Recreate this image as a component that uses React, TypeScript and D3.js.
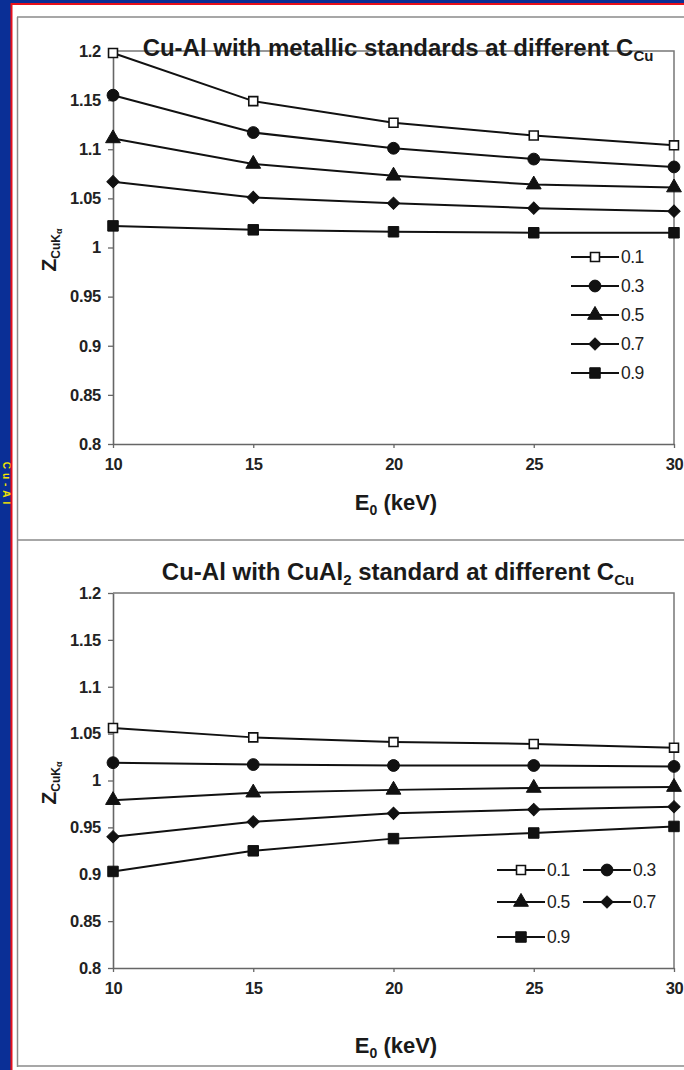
import React, { useEffect, useRef } from 'react';
import * as d3 from 'd3';

// E0 (keV)
const energies = [10, 15, 20, 25, 30];
const concentrations = ['0.1', '0.3', '0.5', '0.7', '0.9'];

// metallic standards
const metallic01 = [1.198, 1.149, 1.127, 1.114, 1.104];
const metallic03 = [1.155, 1.117, 1.101, 1.09, 1.082];
const metallic05 = [1.111, 1.085, 1.073, 1.064, 1.061];
const metallic07 = [1.067, 1.051, 1.045, 1.04, 1.037];
const metallic09 = [1.022, 1.018, 1.016, 1.015, 1.015];

// CuAl2 standard
const cual01 = [1.056, 1.046, 1.041, 1.039, 1.035];
const cual03 = [1.019, 1.017, 1.016, 1.016, 1.015];
const cual05 = [0.979, 0.987, 0.99, 0.992, 0.993];
const cual07 = [0.94, 0.956, 0.965, 0.969, 0.972];
const cual09 = [0.903, 0.925, 0.938, 0.944, 0.951];

const yTicks = [0.8, 0.85, 0.9, 0.95, 1, 1.05, 1.1, 1.15, 1.2];
const xTicks = [10, 15, 20, 25, 30];

// square, circle, triangle, diamond (rotated square), square
const symbolTypes = [d3.symbolSquare, d3.symbolCircle, d3.symbolTriangle, d3.symbolSquare, d3.symbolSquare];
const symbolSizes = [80, 110, 95, 75, 110];
const symbolRotate = [0, 0, 0, 45, 0];
const symbolFills = ['#fff', '#111', '#111', '#111', '#111'];

const FONT = '"Liberation Sans", Arial, sans-serif';

const App = () => {
    const svgRef = useRef<SVGSVGElement>(null);

    useEffect(() => {
        const svg = d3.select(svgRef.current);
        svg.selectAll('*').remove();

        // page background and frame
        svg.append('rect').attr('width', 684).attr('height', 1070).attr('fill', '#fff');
        svg.append('rect').attr('x', 0).attr('y', 0).attr('width', 11).attr('height', 1070).attr('fill', '#0a2f96');
        svg.append('rect').attr('x', 0).attr('y', 0).attr('width', 684).attr('height', 3).attr('fill', '#0a2f96');
        svg.append('text')
            .attr('transform', 'translate(3,485) rotate(90)')
            .attr('text-anchor', 'middle')
            .attr('font-family', FONT).attr('font-weight', 'bold').attr('font-size', 10)
            .attr('letter-spacing', 4)
            .attr('fill', '#f3e600')
            .text('Cu-Al');
        svg.append('line').attr('x1', 11.5).attr('x2', 11.5).attr('y1', 3).attr('y2', 1070).attr('stroke', '#e8101a').attr('stroke-width', 2);
        svg.append('line').attr('x1', 11).attr('x2', 684).attr('y1', 4).attr('y2', 4).attr('stroke', '#e8101a').attr('stroke-width', 2);

        const frame = svg.append('g').attr('fill', 'none').attr('stroke', '#8a8a8a').attr('stroke-width', 1.5);
        frame.append('line').attr('x1', 17).attr('x2', 684).attr('y1', 17).attr('y2', 17);
        frame.append('line').attr('x1', 17.5).attr('x2', 17.5).attr('y1', 17).attr('y2', 1067);
        frame.append('line').attr('x1', 17).attr('x2', 684).attr('y1', 540).attr('y2', 540);
        frame.append('line').attr('x1', 17).attr('x2', 684).attr('y1', 1066).attr('y2', 1066);

        const x = d3.scaleLinear().domain([10, 30]).range([113, 674]);

        const marker = (sel: any, s: number) =>
            sel.attr('d', d3.symbol().type(symbolTypes[s]).size(symbolSizes[s])())
                .attr('fill', symbolFills[s])
                .attr('stroke', '#111')
                .attr('stroke-width', s === 0 ? 1.6 : 1);

        const drawChart = (
            top: number,
            bottom: number,
            series: number[][],
            title: [string, string],
            legendPos: { x: number; y: number }[],
            titleY: number,
            yLabelY: number,
            xLabelY: number,
        ) => {
            const y = d3.scaleLinear().domain([0.8, 1.2]).range([bottom, top]);
            const g = svg.append('g');

            // plot frame (top and right)
            g.append('path')
                .attr('d', `M${x(10)},${y(1.2)}H${x(30)}V${y(0.8)}`)
                .attr('fill', 'none').attr('stroke', '#777').attr('stroke-width', 1.5);

            const yAxis = g.append('g')
                .attr('transform', `translate(${x(10)},0)`)
                .call(d3.axisLeft(y).tickValues(yTicks).tickSize(5).tickSizeOuter(0).tickPadding(7)
                    .tickFormat((d) => String(+(+d).toFixed(2))));
            const xAxis = g.append('g')
                .attr('transform', `translate(0,${y(0.8)})`)
                .call(d3.axisBottom(x).tickValues(xTicks).tickSize(4).tickSizeOuter(0).tickPadding(10));
            [yAxis, xAxis].forEach((a) => {
                a.select('.domain').attr('stroke', '#666').attr('stroke-width', 1.6);
                a.selectAll('.tick line').attr('stroke', '#666').attr('stroke-width', 1.3);
                a.selectAll('.tick text')
                    .attr('font-family', FONT).attr('font-size', 16.5).attr('font-weight', 'bold')
                    .attr('letter-spacing', -0.3)
                    .attr('fill', '#222');
            });

            const line = d3.line<number>()
                .x((_, i) => x(energies[i]))
                .y((d) => y(d));

            series.forEach((vals, s) => {
                g.append('path')
                    .datum(vals)
                    .attr('fill', 'none')
                    .attr('stroke', '#111')
                    .attr('stroke-width', 2)
                    .attr('d', line);
                g.selectAll(null)
                    .data(vals)
                    .join('path')
                    .attr('transform', (d, i) => `translate(${x(energies[i])},${y(d)}) rotate(${symbolRotate[s]})`)
                    .call(marker, s);
            });

            // legend
            legendPos.forEach((p, s) => {
                const lg = g.append('g').attr('transform', `translate(${p.x},${p.y})`);
                lg.append('line').attr('x1', 0).attr('x2', 48).attr('stroke', '#111').attr('stroke-width', 2);
                lg.append('path')
                    .attr('transform', `translate(24,0) rotate(${symbolRotate[s]})`)
                    .call(marker, s);
                lg.append('text')
                    .attr('x', 50).attr('y', 6)
                    .attr('font-family', FONT).attr('font-size', 17.5)
                    .attr('letter-spacing', -0.5)
                    .attr('fill', '#222')
                    .text(concentrations[s]);
            });

            // title
            const t = g.append('text')
                .attr('x', 398).attr('y', titleY)
                .attr('text-anchor', 'middle')
                .attr('font-family', FONT).attr('font-size', 24).attr('font-weight', 'bold')
                .attr('fill', '#1a1a1a');
            if (title[1]) {
                t.append('tspan').text(title[0]);
                t.append('tspan').attr('font-size', 15).attr('dy', 5).text('2');
                t.append('tspan').attr('dy', -5).text(title[1]);
            } else {
                t.append('tspan').text(title[0]);
            }
            t.append('tspan').text('C');
            t.append('tspan').attr('font-size', 15).attr('dy', 5).text('Cu');

            // y label
            const yl = g.append('text')
                .attr('transform', `translate(56,${yLabelY}) rotate(-90)`)
                .attr('text-anchor', 'middle')
                .attr('font-family', FONT).attr('font-weight', 'bold')
                .attr('fill', '#1a1a1a');
            yl.append('tspan').attr('font-size', 21).text('Z');
            yl.append('tspan').attr('font-size', 12).attr('dy', 4).text('CuK');
            yl.append('tspan').attr('font-size', 9).attr('dy', 2).text('α');

            // x label
            const xl = g.append('text')
                .attr('x', 396).attr('y', xLabelY)
                .attr('text-anchor', 'middle')
                .attr('font-family', FONT).attr('font-weight', 'bold').attr('font-size', 22)
                .attr('fill', '#1a1a1a');
            xl.append('tspan').text('E');
            xl.append('tspan').attr('font-size', 14).attr('dy', 5).text('0');
            xl.append('tspan').attr('dy', -5).text(' (keV)');
        };

        drawChart(
            51, 444,
            [metallic01, metallic03, metallic05, metallic07, metallic09],
            ['Cu-Al with metallic standards at different ', ''],
            [
                { x: 571, y: 257 },
                { x: 571, y: 286 },
                { x: 571, y: 315 },
                { x: 571, y: 344 },
                { x: 571, y: 373 },
            ],
            56, 250, 510,
        );

        drawChart(
            593, 968,
            [cual01, cual03, cual05, cual07, cual09],
            ['Cu-Al with CuAl', ' standard at different '],
            [
                { x: 497, y: 870 },
                { x: 583, y: 870 },
                { x: 497, y: 902 },
                { x: 583, y: 902 },
                { x: 497, y: 937 },
            ],
            580, 783, 1053,
        );
    }, []);

    return (
        <div style={{ position: 'absolute', left: 0, top: 0 }}>
            <svg ref={svgRef} width={684} height={1070} style={{ display: 'block' }}></svg>
        </div>
    );
};

export default App;
